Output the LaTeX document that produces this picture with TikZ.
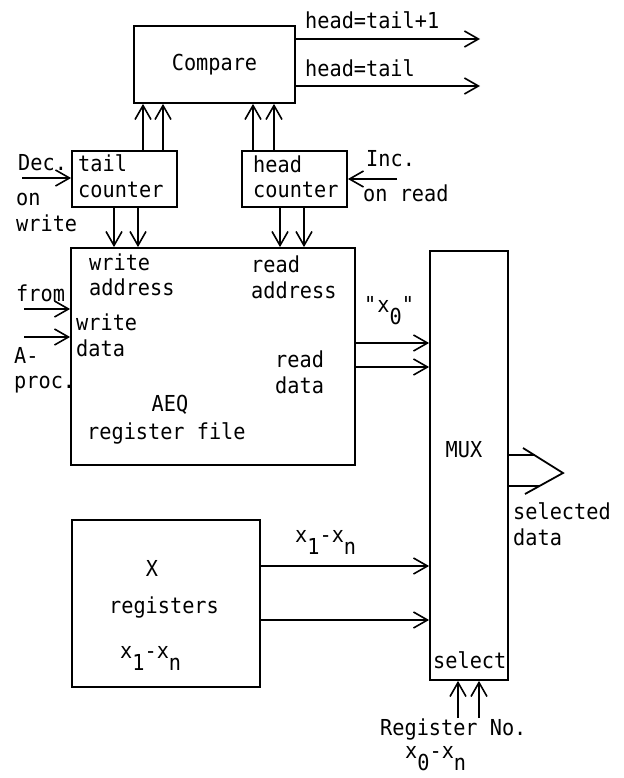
\documentclass[tikz,border=0pt]{standalone}
\usepackage{fontspec}
\setmainfont[FakeStretch=0.92]{DejaVu Sans Mono}
\usetikzlibrary{%
    arrows.meta,%
    positioning,%
    calc%
}
\tikzset{
    block/.style = {draw, rectangle, line width=1.8pt, inner sep=0pt},
    arr/.style = {-{Straight Barb[length=14pt,width=16pt,line width=1.6pt]}, line width=1.8pt},
    wire/.style = {line width=1.8pt, line join=miter},
    lbl/.style = {inner sep=0pt, anchor=west, align=left}
}
% lowered index, set at full size
\newcommand{\lo}[1]{\raisebox{-12pt}{#1}}

\begin{document}
\begin{tikzpicture}[x=1pt, y=-1pt, font=\fontsize{22}{25.5}\selectfont]
    \useasboundingbox (0,0) rectangle (623,778);

    % blocks
    \node (compare) [block, minimum width=161pt, minimum height=77pt] at (214.5,64.5) {Compare};
    \node (tail) [block, minimum width=105pt, minimum height=56pt] at (124.5,179) {};
    \node (head) [block, minimum width=105pt, minimum height=56pt] at (294.5,179) {};
    \node (aeq) [block, minimum width=284pt, minimum height=217pt] at (213,356.5) {};
    \node (mux) [block, minimum width=78pt, minimum height=429pt] at (469,465.5) {};
    \node (xreg) [block, minimum width=188pt, minimum height=167pt] at (166,603.5) {};

    % texts in the blocks
    \node[lbl] (tailtxt) at (78,176) {tail\\counter};
    \node[lbl] (headtxt) at (253,177) {head\\counter};
    \node[lbl] (wraddr) at (89,275) {write\\address};
    \node[lbl] (rdaddr) at (251,277.5) {read\\address};
    \node[lbl] (wrdata) at (76,335.5) {write\\data};
    \node[lbl] (rddata) at (275,372.5) {read\\data};
    \node[inner sep=0pt] (aeqtxt) at (170,405) {AEQ};
    \node[lbl] (regfile) at (87,433) {register file};
    \node[inner sep=0pt] (muxtxt) at (464,450) {MUX};
    \node[lbl] (seltxt) at (433,660) {select};
    \node[inner sep=0pt] (xtxt) at (152,568) {X};
    \node[inner sep=0pt] (regtxt) at (164,607) {registers};
    \node[lbl, anchor=base west] (xrange) at (120,658) {x\lo{1}-x\lo{n}};

    % texts outside
    \node[lbl] (eqone) at (305,20) {head=tail+1};
    \node[lbl] (eq) at (305,68) {head=tail};
    \node[lbl] (dec) at (18,163) {Dec.};
    \node[lbl] (onwrite) at (16,212.5) {on\\write};
    \node[lbl] (inc) at (366,159) {Inc.};
    \node[lbl] (onread) at (363,193) {on read};
    \node[lbl] (from) at (16,293) {from};
    \node[lbl] (aproc) at (14,370.5) {A-\\proc.};
    \node[lbl, anchor=base west] (xzero) at (364,312) {\textquotedbl x\lo{0}\textquotedbl};
    \node[lbl, anchor=base west] (xbus) at (295,542) {x\lo{1}-x\lo{n}};
    \node[lbl] (seldata) at (513,524) {selected\\data};
    \node[lbl] (regno) at (380,729) {Register No.};
    \node[lbl, anchor=base west] (regrange) at (405,758) {x\lo{0}-x\lo{n}};

    % free ends
    \coordinate (eqoneout) at (480,39);
    \coordinate (eqout) at (480,86);
    \coordinate (decin) at (22,178);
    \coordinate (incin) at (397,179);
    \coordinate (datain) at (24,309);
    \coordinate (datainb) at (24,337);

    % counters to compare
    \draw[arr] (tail.north -| 143,0) -- (compare.south -| 143,0);
    \draw[arr] (tail.north -| 163,0) -- (compare.south -| 163,0);
    \draw[arr] (head.north -| 253,0) -- (compare.south -| 253,0);
    \draw[arr] (head.north -| 274,0) -- (compare.south -| 274,0);
    \draw[arr] (compare.east |- eqoneout) -- (eqoneout);
    \draw[arr] (compare.east |- eqout) -- (eqout);

    % counters to register file
    \draw[arr] (decin) -- (tail.west |- decin);
    \draw[arr] (incin) -- (head.east |- incin);
    \draw[arr] (tail.south -| 114,0) -- (aeq.north -| 114,0);
    \draw[arr] (tail.south -| 138,0) -- (aeq.north -| 138,0);
    \draw[arr] (head.south -| 280,0) -- (aeq.north -| 280,0);
    \draw[arr] (head.south -| 304,0) -- (aeq.north -| 304,0);
    \draw[arr] (datain) -- (aeq.west |- datain);
    \draw[arr] (datainb) -- (aeq.west |- datainb);

    % buses into the MUX
    \draw[arr] (aeq.east |- 0,343) -- (mux.west |- 0,343);
    \draw[arr] (aeq.east |- 0,367) -- (mux.west |- 0,367);
    \draw[arr] (xreg.east |- 0,566) -- (mux.west |- 0,566);
    \draw[arr] (xreg.east |- 0,620) -- (mux.west |- 0,620);
    \draw[arr] (regno.north -| 458,0) -- (mux.south -| 458,0);
    \draw[arr] (regno.north -| 479,0) -- (mux.south -| 479,0);

    % wide output arrow
    \coordinate (seltip) at (563,473);
    \draw[wire] (mux.east |- 0,455) -- (535,455);
    \draw[wire] (mux.east |- 0,486) -- (540,486);
    \draw[wire] (523,448) -- (seltip) -- (525,494);
\end{tikzpicture}
\end{document}
